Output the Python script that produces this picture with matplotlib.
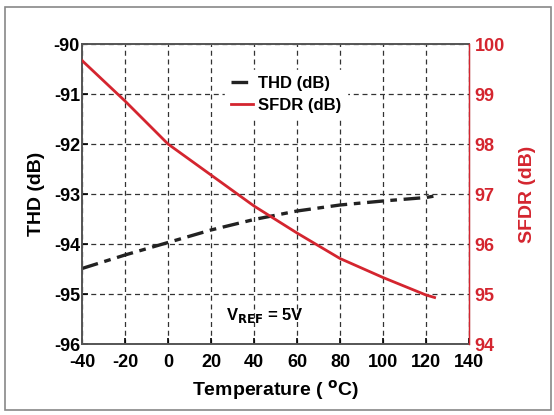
import numpy as np
import matplotlib.pyplot as plt
from matplotlib.patches import Rectangle

plt.rcParams['font.family'] = ['Liberation Sans', 'DejaVu Sans']
plt.rcParams['font.weight'] = 'bold'
plt.rcParams['axes.unicode_minus'] = False

# data
temp = [-40, -20, 0, 20, 40, 60, 80, 100, 120, 124]
thd = [-94.49, -94.22, -93.97, -93.72, -93.51, -93.34, -93.22, -93.14, -93.07, -93.04]
sfdr = [99.67, 98.86, 98.0, 97.38, 96.76, 96.22, 95.71, 95.33, 94.98, 94.93]

red = '#d4252f'

fig = plt.figure(figsize=(5.54, 4.15), dpi=100)
fig.patches.append(Rectangle((5 / 554, 5 / 415), 546 / 554, 403 / 415, transform=fig.transFigure,
                             fill=False, edgecolor='#888888', lw=1.2))
ax = fig.add_axes([82 / 554, 71 / 415, 387 / 554, 300 / 415])
ax2 = ax.twinx()

ln1, = ax.plot(temp, thd, color='#222222', lw=2.4, dashes=(5, 2, 2, 2), label='THD (dB)')
ln2, = ax2.plot(temp, sfdr, color=red, lw=2.0, label='SFDR (dB)', solid_joinstyle='round')

ax.set_xlim(-40, 140)
ax.set_ylim(-96, -90)
ax2.set_ylim(94, 100)
ax.set_xticks(np.arange(-40, 141, 20))
ax.set_yticks(np.arange(-96, -89, 1))
ax2.set_yticks(np.arange(94, 101, 1))

ax.grid(True, color='#333333', ls=(0, (4, 3)), lw=0.9)
ax.tick_params(direction='in', labelsize=13, length=4, width=1.2)
ax.tick_params(axis='x', pad=7)
ax.tick_params(axis='y', pad=1.5)
ax2.tick_params(direction='in', labelsize=13, length=0, colors=red, pad=4)
for sp in ['left', 'bottom', 'top']:
    ax.spines[sp].set_color('#555555')
    ax.spines[sp].set_linewidth(1.4)
ax2.spines['right'].set_color(red)
ax2.spines['right'].set_linewidth(1.0)
for sp in ['left', 'bottom', 'top']:
    ax2.spines[sp].set_visible(False)

ax.set_xlabel('Temperature ( $\\mathbf{^{o}}$C)', fontsize=14, fontweight='bold', labelpad=5)
ax.set_ylabel('THD (dB)', fontsize=14, fontweight='bold', labelpad=6)
ax2.set_ylabel('SFDR (dB)', fontsize=14, fontweight='bold', color=red, labelpad=10)

ax.text(45, -95.42, 'V$_{\\mathbf{REF}}$ = 5V', fontsize=12, fontweight='bold', ha='center', va='center')

leg = ax2.legend(handles=[ln1, ln2], loc='upper left', bbox_to_anchor=(0.37, 0.912), frameon=True,
                 facecolor='white', edgecolor='white', framealpha=1, fancybox=False,
                 fontsize=12, handlelength=1.3, handletextpad=0.3, labelspacing=0.38,
                 borderaxespad=0, borderpad=0.35)
leg.set_zorder(5)

fig.savefig('out.png', dpi=100)
